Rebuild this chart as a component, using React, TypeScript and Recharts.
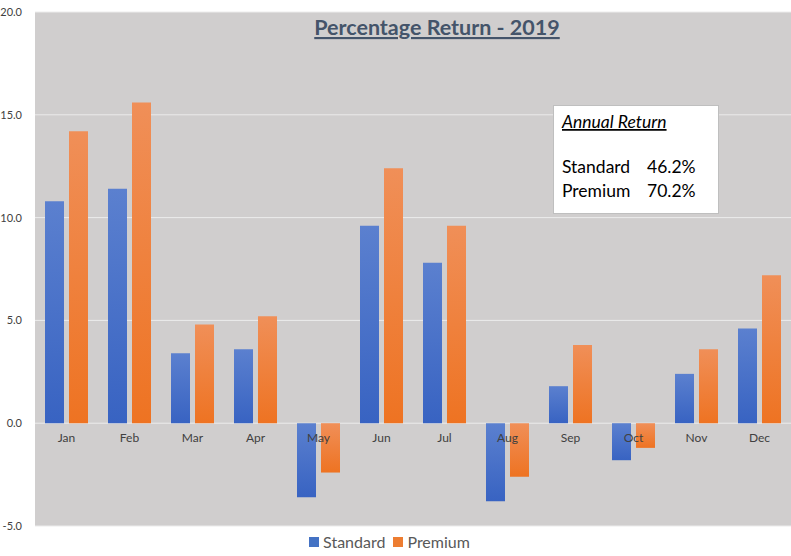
import React from 'react';
import { BarChart, Bar, XAxis, YAxis, CartesianGrid, Legend } from 'recharts';

const months = ['Jan', 'Feb', 'Mar', 'Apr', 'May', 'Jun', 'Jul', 'Aug', 'Sep', 'Oct', 'Nov', 'Dec'];
const standard = [10.8, 11.4, 3.4, 3.6, -3.6, 9.6, 7.8, -3.8, 1.8, -1.8, 2.4, 4.6];
const premium = [14.2, 15.6, 4.8, 5.2, -2.4, 12.4, 9.6, -2.6, 3.8, -1.2, 3.6, 7.2];
const seriesNames = ['Standard', 'Premium'];
const yTicks = [-5, 0, 5, 10, 15, 20];
const yDomain = [-5, 20];
const annualLabels = ['Standard', 'Premium'];
const annualValues = ['46.2%', '70.2%'];
const titleText = 'Percentage Return - 2019';
const annualTitle = 'Annual Return';

const data = months.map((m, i) => ({ month: m, Standard: standard[i], Premium: premium[i] }));

const W = 791;
const H = 556;
const M_TOP = 12;
const X_AXIS_H = 30;
const FONT = 'Lato, "Open Sans", sans-serif';
const legendColors: Record<string, string> = { Standard: '#4472c4', Premium: '#ed7d31' };

const XTick = (props: any) => {
  const { x, y, payload } = props;
  const plotH = H - M_TOP - X_AXIS_H;
  const zeroY = y - ((0 - yDomain[0]) / (yDomain[1] - yDomain[0])) * plotH;
  return (
    <text x={x} y={zeroY + 19} textAnchor="middle" fontFamily={FONT} fontSize={12} fill="#404040">
      {payload.value}
    </text>
  );
};

const renderLegend = (props: any) => {
  const payload = [...(props.payload || [])].sort(
    (a: any, b: any) => seriesNames.indexOf(a.value) - seriesNames.indexOf(b.value)
  );
  return (
    <div style={{ display: 'flex', justifyContent: 'center', alignItems: 'center', fontFamily: FONT, fontSize: 16, color: '#595959' }}>
      {payload.map((p: any) => (
        <span key={p.value} style={{ display: 'flex', alignItems: 'center', margin: '0 4px' }}>
          <span style={{ display: 'inline-block', width: 10, height: 10, background: legendColors[p.value], marginRight: 4 }} />
          {p.value}
        </span>
      ))}
    </div>
  );
};

export default function App() {
  return (
    <div style={{ position: 'absolute', left: 0, top: 0, width: W, height: H, background: '#ffffff' }}>
      <BarChart width={W} height={H} data={data} margin={{ top: M_TOP, right: 0, bottom: 0, left: 0 }} barSize={19} barGap={5}>
        <defs>
          <linearGradient id="gStd" x1="0" y1="0" x2="0" y2="1">
            <stop offset="0%" stopColor="#5b80cf" />
            <stop offset="100%" stopColor="#3863c2" />
          </linearGradient>
          <linearGradient id="gPrem" x1="0" y1="0" x2="0" y2="1">
            <stop offset="0%" stopColor="#f08f58" />
            <stop offset="100%" stopColor="#ee7322" />
          </linearGradient>
        </defs>
        <CartesianGrid vertical={false} fill="#d0cece" stroke="#ececec" strokeWidth={1} />
        <XAxis dataKey="month" height={X_AXIS_H} axisLine={false} tickLine={false} tickSize={0} tickMargin={0} tick={<XTick />} interval={0} />
        <YAxis
          width={35}
          domain={yDomain}
          ticks={yTicks}
          type="number"
          axisLine={false}
          tickLine={false}
          tickSize={0}
          tickMargin={13}
          tickFormatter={(v: number) => v.toFixed(1)}
          tick={{ fontFamily: FONT, fontSize: 11, fill: '#404040' }}
        />
        <Legend
          layout="horizontal"
          verticalAlign="middle"
          align="center"
          wrapperStyle={{ top: 532, left: -6, width: W, height: 22 }}
          content={renderLegend}
        />
        <Bar dataKey="Standard" fill="url(#gStd)" isAnimationActive={false} />
        <Bar dataKey="Premium" fill="url(#gPrem)" isAnimationActive={false} />
      </BarChart>
      <svg width={W} height={H} style={{ position: 'absolute', left: 0, top: 0, pointerEvents: 'none' }}>
        <text x={437} y={35} textAnchor="middle" fontFamily={FONT} fontWeight="bold" fontSize={21.5} fill="#44546a" style={{ textDecoration: 'underline' }}>
          {titleText}
        </text>
        <rect x={553.5} y={105.5} width={165} height={108} fill="#ffffff" stroke="#bfbfbf" strokeWidth={1} />
        <text x={562} y={128} fontFamily={FONT} fontStyle="italic" fontSize={17.5} fill="#000" style={{ textDecoration: 'underline' }}>
          {annualTitle}
        </text>
        {annualLabels.map((l, i) => (
          <g key={l}>
            <text x={562} y={173 + i * 24} fontFamily={FONT} fontSize={17.5} fill="#000">{l}</text>
            <text x={647} y={173 + i * 24} fontFamily={FONT} fontSize={17.5} fill="#000">{annualValues[i]}</text>
          </g>
        ))}
      </svg>
    </div>
  );
}
